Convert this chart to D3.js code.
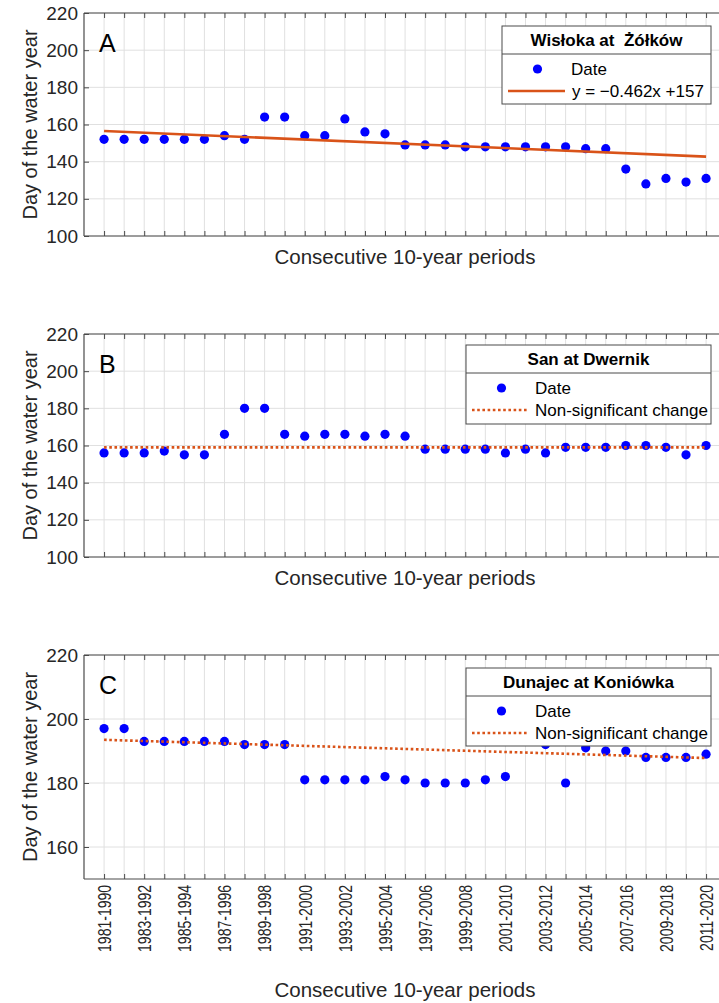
<!DOCTYPE html>
<html><head><meta charset="utf-8">
<script src="https://cdn.jsdelivr.net/npm/d3@7"></script>
<style>body{margin:0;background:#fff}svg{display:block}</style>
</head><body>
<script>
const periods = ["1981-1990","1982-1991","1983-1992","1984-1993","1985-1994","1986-1995","1987-1996","1988-1997","1989-1998","1990-1999","1991-2000","1992-2001","1993-2002","1994-2003","1995-2004","1996-2005","1997-2006","1998-2007","1999-2008","2000-2009","2001-2010","2002-2011","2003-2012","2004-2013","2005-2014","2006-2015","2007-2016","2008-2017","2009-2018","2010-2019","2011-2020"];
const wislokaDates = [152,152,152,152,152,152,154,152,164,164,154,154,163,156,155,149,149,149,148,148,148,148,148,148,147,147,136,128,131,129,131];
const sanDates = [156,156,156,157,155,155,166,180,180,166,165,166,166,165,166,165,158,158,158,158,156,158,156,159,159,159,160,160,159,155,160];
const dunajecDates = [197,197,193,193,193,193,193,192,192,192,181,181,181,181,182,181,180,180,180,181,182,194,192,180,191,190,190,188,188,188,189];
const wislokaTrend = [156.5, 142.7];
const sanTrend = [159, 159];
const dunajecTrend = [193.5, 187.8];
const ticksAB = [100,120,140,160,180,200,220];
const ticksC = [160,180,200,220];
const panelLetters = ["A","B","C"];
const legendTitles = ["Wisłoka at  Żółków","San at Dwernik","Dunajec at Koniówka"];
const legendTrendLabels = ["y = \u22120.462x +157","Non-significant change","Non-significant change"];

const W = 719, H = 1003;
const FF = "'Liberation Sans', Arial, sans-serif";
const svg = d3.select("body").append("svg").attr("width", W).attr("height", H)
  .style("font-family", FF);
svg.append("rect").attr("width",W).attr("height",H).attr("fill","#fff");

const orange = "#D95319", blue = "#0000FF", axisCol = "#4a4a4a", textCol = "#262626", gridCol = "#e0e0e0";
const x = d3.scaleLinear().domain([0, 32]).range([84, 84 + 32*20.067]);

const panels = [
  {values: wislokaDates, trend: wislokaTrend, dotted: false, top: 13, bottom: 236, domain: [100,220], ticks: ticksAB,
   legend: {x0: 502, x1: 711, y0: 26, y1: 104, sep: 54}},
  {values: sanDates, trend: sanTrend, dotted: true, top: 334, bottom: 557, domain: [100,220], ticks: ticksAB,
   legend: {x0: 466, x1: 711, y0: 345, y1: 424, sep: 373}},
  {values: dunajecDates, trend: dunajecTrend, dotted: true, top: 655, bottom: 879, domain: [150,220], ticks: ticksC,
   legend: {x0: 466, x1: 711, y0: 668, y1: 746, sep: 696}}
];

panels.forEach((p, k) => {
  const y = d3.scaleLinear().domain(p.domain).range([p.bottom, p.top]);
  const g = svg.append("g");
  const idx = d3.range(1, periods.length + 1);
  // grid
  g.append("g").selectAll("line").data(idx).join("line")
    .attr("x1", d => x(d)).attr("x2", d => x(d)).attr("y1", p.top).attr("y2", p.bottom)
    .attr("stroke", gridCol).attr("stroke-width", 1);
  g.append("g").selectAll("line").data(p.ticks).join("line")
    .attr("x1", x(0)).attr("x2", W).attr("y1", d => y(d)).attr("y2", d => y(d))
    .attr("stroke", gridCol).attr("stroke-width", 1);
  // axes
  const yAxis = d3.axisLeft(y).tickValues(p.ticks).tickSize(-5).tickPadding(6);
  const ya = g.append("g").attr("transform", `translate(${x(0)},0)`).call(yAxis);
  ya.select(".domain").remove();
  ya.selectAll("line").attr("stroke", axisCol);
  ya.selectAll("text").attr("fill", textCol).style("font-size", "19px").style("font-family", FF);
  const xAxis = d3.axisBottom(x).tickValues(idx).tickSize(-5).tickFormat((d,i) => (k === 2 && i % 2 === 0) ? periods[i] : "");
  const xa = g.append("g").attr("transform", `translate(0,${p.bottom})`).call(xAxis);
  xa.select(".domain").remove();
  xa.selectAll("line").attr("stroke", axisCol);
  xa.selectAll("text").attr("fill", textCol).style("font-size", "18px").style("font-family", FF)
    .attr("transform", "rotate(-90) scale(0.78,1)").attr("text-anchor", "end").attr("x", -7.5).attr("y", 0).attr("dy", "0.35em");
  const xt = g.append("g").attr("transform", `translate(0,${p.top})`).call(d3.axisTop(x).tickValues(idx).tickSize(-5).tickFormat(""));
  xt.select(".domain").remove();
  xt.selectAll("line").attr("stroke", axisCol);
  // box
  g.append("line").attr("x1", x(0)).attr("x2", W+2).attr("y1", p.top).attr("y2", p.top).attr("stroke", axisCol).attr("stroke-width", 1.2);
  g.append("line").attr("x1", x(0)).attr("x2", W+2).attr("y1", p.bottom).attr("y2", p.bottom).attr("stroke", axisCol).attr("stroke-width", 1.2);
  g.append("line").attr("x1", x(0)).attr("x2", x(0)).attr("y1", p.top).attr("y2", p.bottom).attr("stroke", axisCol).attr("stroke-width", 1.2);
  // points
  g.append("g").selectAll("circle").data(p.values).join("circle")
    .attr("cx", (d,i) => x(i+1)).attr("cy", d => y(d)).attr("r", 4.6).attr("fill", blue);
  // trend
  const tl = g.append("line").attr("x1", x(1)).attr("x2", x(periods.length))
    .attr("y1", y(p.trend[0])).attr("y2", y(p.trend[1]))
    .attr("stroke", orange).attr("stroke-width", 2.6);
  if (p.dotted) tl.attr("stroke-dasharray", "2.6,2.6");
  // letter
  g.append("text").attr("x", 99).attr("y", p.top + 39).text(panelLetters[k])
    .attr("fill", "#000").style("font-size", "25px");
  // y title
  g.append("text").attr("transform", `translate(37,${(p.top+p.bottom)/2}) rotate(-90)`)
    .attr("text-anchor", "middle").attr("fill", textCol).style("font-size", "20px").text("Day of the water year");
  // x title
  g.append("text").attr("x", 405).attr("y", k === 2 ? 997 : p.bottom + 28).attr("text-anchor", "middle")
    .attr("fill", textCol).style("font-size", "20.5px").text("Consecutive 10-year periods");
  // legend
  const L = p.legend;
  const lg = g.append("g");
  lg.append("rect").attr("x", L.x0).attr("y", L.y0).attr("width", L.x1 - L.x0).attr("height", L.y1 - L.y0)
    .attr("fill", "#fff").attr("stroke", axisCol).attr("stroke-width", 1);
  lg.append("line").attr("x1", L.x0).attr("x2", L.x1).attr("y1", L.sep).attr("y2", L.sep).attr("stroke", axisCol).attr("stroke-width", 1);
  lg.append("text").attr("x", (L.x0 + L.x1)/2).attr("y", (L.y0 + L.sep)/2 + 6).attr("text-anchor", "middle")
    .attr("fill", "#000").style("font-size", "17px").style("font-weight", "bold").style("white-space", "pre")
    .text(legendTitles[k]);
  const r1 = L.sep + 15, r2 = L.sep + 37;
  const mx = L.x0 + 35.5;
  const tx = L.x0 + 69;
  lg.append("circle").attr("cx", mx).attr("cy", r1).attr("r", 4.6).attr("fill", blue);
  lg.append("text").attr("x", tx).attr("y", r1 + 6).attr("fill", "#000").style("font-size", "17px").text("Date");
  const ll = lg.append("line").attr("x1", L.x0 + 6).attr("x2", k === 0 ? L.x0 + 63 : L.x0 + 62).attr("y1", r2).attr("y2", r2)
    .attr("stroke", orange).attr("stroke-width", 2.6);
  if (p.dotted) ll.attr("stroke-dasharray", "2.6,2.6");
  lg.append("text").attr("x", k === 0 ? L.x0 + 70 : tx).attr("y", r2 + 6).attr("fill", "#000").style("font-size", "17px").text(legendTrendLabels[k]);
});
</script>
</body></html>
